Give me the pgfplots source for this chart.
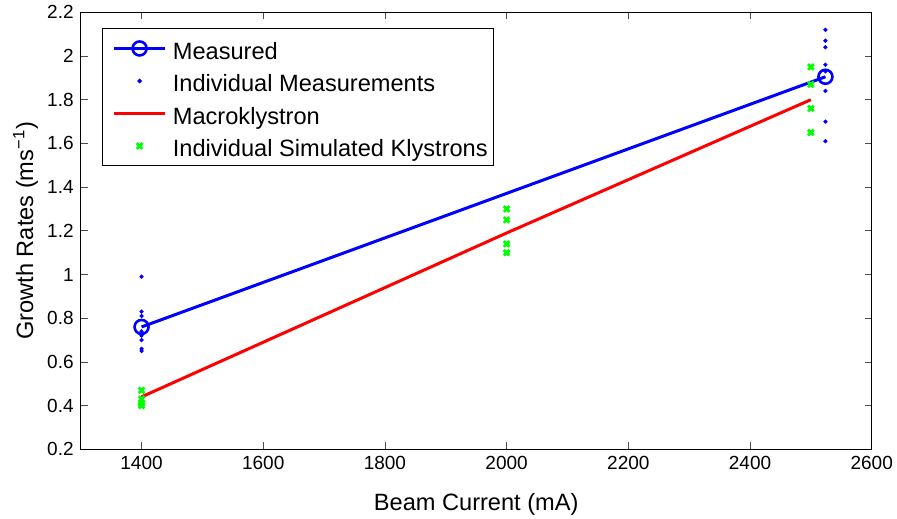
\documentclass[border=0pt]{standalone}
\usepackage{fontspec}
\setmainfont{Liberation Sans}
\usepackage{pgfplots}
\pgfplotsset{compat=1.18}

\begin{document}
\begin{tikzpicture}
\path[use as bounding box] (-40.35bp,-34.85bp) rectangle (408.15bp,224.65bp);
\begin{axis}[
  at={(0,0)}, anchor=south west,
  scale only axis, width=395.5bp, height=218.5bp,
  xmin=1300, xmax=2600, ymin=0.2, ymax=2.2,
  xtick={1400,1600,1800,2000,2200,2400,2600},
  ytick={0.2,0.4,0.6,0.8,1,1.2,1.4,1.6,1.8,2,2.2},
  /pgf/number format/assume math mode=true,
  /pgf/number format/1000 sep={},
  ticklabel style={font=\fontsize{9.5bp}{11bp}\selectfont},
  axis line style={line width=0.7bp},
  tick style={line width=0.4bp, color=black!70},
  major tick length=3.5bp,
  xlabel={Beam Current (mA)},
  ylabel={Growth Rates (ms\textsuperscript{−1})},
  every axis x label/.style={at={(axis description cs:0.5,-0.125)}, anchor=center, font=\fontsize{11.8bp}{14bp}\selectfont},
  every axis y label/.style={at={(axis description cs:-0.0698,0.5)}, anchor=center, rotate=90, font=\fontsize{11.8bp}{14bp}\selectfont},
  legend image code/.code={\path (0bp,0bp) (30.8bp,0bp); \draw[mark repeat=2,mark phase=2,#1] plot coordinates {(5bp,0bp) (17.9bp,0bp) (30.8bp,0bp)};},
  legend cell align=left,
  legend style={at={(0.02655,0.9634)}, anchor=north west, draw=black, line width=0.6bp,
    font=\fontsize{11.8bp}{14bp}\selectfont,
    inner xsep=0bp, inner ysep=1.65bp, row sep=0bp, column sep=0bp,
    nodes={inner xsep=3bp, inner ysep=1bp, text height=12.55bp, text depth=1.7bp}},
]
\addplot[color=blue, line width=1.5bp, mark=o, mark size=3.5bp, mark options={line width=1.3bp}]
  coordinates {(1400,0.76) (2524,1.905)};
\addlegendentry{Measured}
\addplot[only marks, color=blue, mark=*, mark size=0.85bp]
  coordinates {(1400,0.99) (1400,0.83) (1400,0.81) (1400,0.74) (1400,0.72) (1400,0.70) (1400,0.66) (1400,0.65)
               (2524,2.12) (2524,2.07) (2524,2.04) (2524,1.96) (2524,1.93) (2524,1.84) (2524,1.70) (2524,1.61)};
\addlegendentry{Individual Measurements}
\addplot[color=red, line width=1.5bp, mark=none]
  coordinates {(1400,0.44) (2000,1.19) (2500,1.80)};
\addlegendentry{Macroklystron}
\addplot[only marks, color=green, mark=x, mark size=2bp, mark options={line width=1.4bp}]
  coordinates {(1400,0.47) (1400,0.43) (1400,0.41) (1400,0.40)
               (2000,1.30) (2000,1.25) (2000,1.14) (2000,1.10)
               (2500,1.95) (2500,1.87) (2500,1.76) (2500,1.65)};
\addlegendentry{Individual Simulated Klystrons}
\end{axis}
\end{tikzpicture}
\end{document}
